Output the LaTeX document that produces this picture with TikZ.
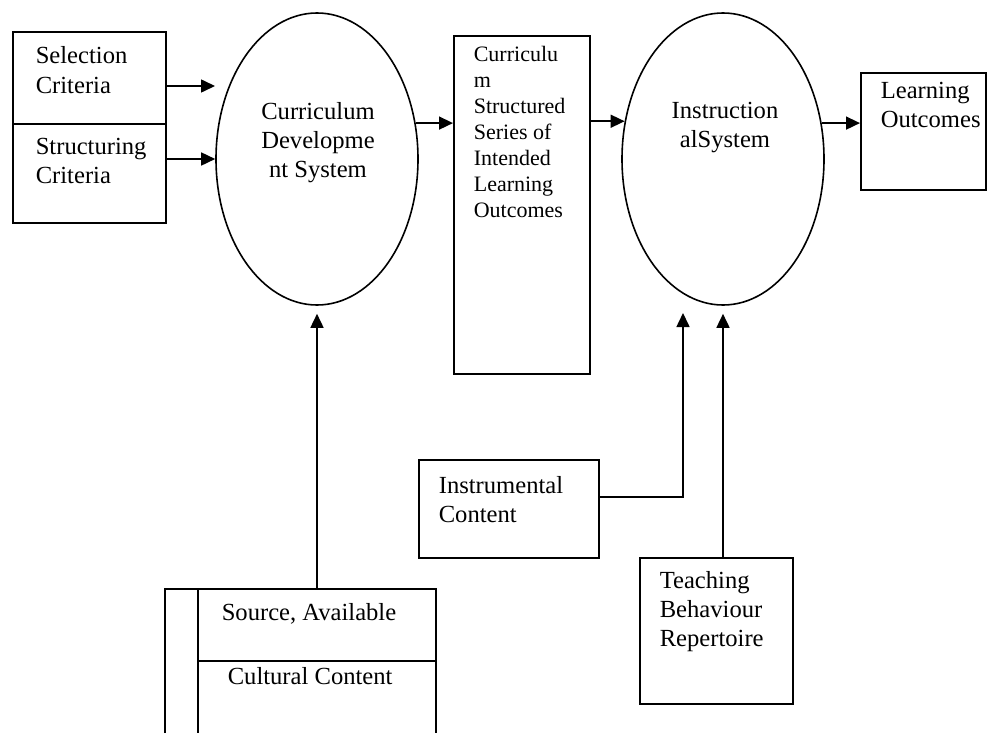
\documentclass[tikz,border=0pt]{standalone}
\usepackage{fontspec}
\setmainfont{Liberation Serif}
\usetikzlibrary{arrows.meta,shapes.geometric}
\begin{document}
\begin{tikzpicture}[x=0.5pt,y=-0.5pt,
  line width=0.8pt,
  box/.style={draw, rectangle, inner sep=0pt, anchor=north west},
  oval/.style={draw, ellipse, inner sep=0pt, minimum width=101pt, minimum height=146pt},
  txt/.style={inner sep=0pt, anchor=base west, align=left, font=\fontsize{12.3}{14.5}\selectfont},
  ctxt/.style={inner sep=0pt, anchor=base, align=center, font=\fontsize{12.3}{14.5}\selectfont},
  stxt/.style={inner sep=0pt, anchor=base west, align=left, font=\fontsize{11}{13}\selectfont},
  arr/.style={-{Triangle[length=7pt,width=6.5pt]}}]
\useasboundingbox (0,0) rectangle (994,733);
% boxes
\node[box, minimum width=76.5pt, minimum height=46pt] (sel) at (12,31) {};
\node[box, minimum width=76.5pt, minimum height=49.5pt] (str) at (12,123) {};
\node[box, minimum width=68pt, minimum height=169pt] (mid) at (453,35) {};
\node[box, minimum width=62.5pt, minimum height=58.5pt] (lo) at (860,72) {};
\node[box, minimum width=90pt, minimum height=49pt] (instr) at (418,459) {};
\node[box, minimum width=76.5pt, minimum height=73pt] (teach) at (639,557) {};
% ellipses
\node[oval] (cds) at (317,159) {};
\node[oval] (ins) at (723,159) {};
% source box (open at bottom)
\draw (165,733) |- (436,589) -- (436,733);
\draw (198,589) -- (198,733);
\draw (198,661) -- (436,661);
\coordinate (srctop) at (317,589);
% texts (anchor = baseline of the last line)
\node[txt] (tsel) at (35,93) {Selection\\Criteria};
\node[txt] (tstr) at (35,183) {Structuring\\Criteria};
\node[ctxt] (tcds) at (318,177) {Curriculum\\Developme\\nt System};
\node[stxt] (tmid) at (473,217) {Curriculu\\m\\Structured\\Series of\\Intended\\Learning\\Outcomes};
\node[ctxt] (tins) at (725,148) {Instruction\\alSystem};
\node[txt] (tlo) at (880,127) {Learning\\Outcomes};
\node[txt] (tinstr) at (438,522) {Instrumental\\Content};
\node[txt] (tteach) at (659,646) {Teaching\\Behaviour\\Repertoire};
\node[txt] (tsrc) at (221,620) {Source, Available};
\node[txt] (tcul) at (227,684) {Cultural Content};
% connectors
\coordinate (selend) at (215,86);
\draw[arr] (sel.east |- selend) -- (selend);
\draw[arr] (str.east |- cds.west) -- (cds.west);
\draw[arr] (cds.20.2) -- (mid.west |- cds.20.2);
\draw[arr] (mid.east |- ins.159.8) -- (ins.159.8);
\draw[arr] (ins.20.2) -- (lo.west |- ins.20.2);
\draw[arr] (srctop) -- ([yshift=-4pt]cds.south);
\coordinate (instrend) at (683,313);
\draw[arr] ([yshift=6pt]instr.east) -| (instrend);
\draw[arr] (teach.north -| ins.south) -- ([yshift=-4pt]ins.south);
\end{tikzpicture}
\end{document}
